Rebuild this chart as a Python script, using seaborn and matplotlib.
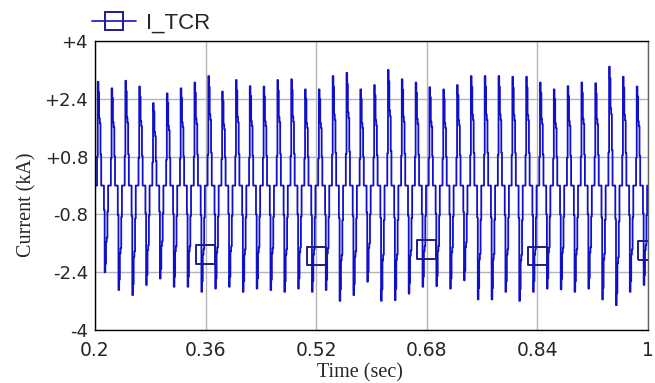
import numpy as np
import pandas as pd
import matplotlib
matplotlib.use("Agg")
import matplotlib.pyplot as plt
from matplotlib.lines import Line2D
import seaborn as sns

# peak current of each half cycle (kA), 50 Hz from t=0.2 s
pos_peak = [2.87, 2.69, 2.90, 2.74, 2.28, 2.55, 2.69, 2.85, 3.03, 2.60,
            2.92, 2.75, 2.74, 2.92, 2.94, 2.66, 2.66, 3.03, 3.12, 2.66,
            2.78, 3.20, 2.94, 2.85, 2.72, 2.66, 2.78, 3.03, 3.03, 3.03,
            3.01, 3.01, 2.85, 2.66, 2.75, 2.85, 2.83, 3.29, 3.01, 2.74]
neg_peak = [-2.40, -2.89, -3.03, -2.75, -2.57, -2.80, -2.80, -2.94, -2.85, -2.80,
            -2.94, -2.85, -2.89, -2.94, -2.85, -2.94, -2.89, -3.19, -3.03, -2.66,
            -3.19, -3.17, -2.99, -2.80, -2.78, -2.85, -2.62, -3.15, -3.15, -2.94,
            -3.19, -2.94, -2.85, -2.87, -2.94, -2.85, -3.15, -3.31, -2.94, -2.75]
# staircase shape of one conduction pulse (1 ms samples, fraction of the peak)
pulse_shape = [0.0, 0.0, 0.0, 0.28, 1.0, 0.9, 0.65, 0.6, 0.3, 0.0]

# square markers on the trace
marker_t = [0.36, 0.52, 0.68, 0.84, 1.0]
marker_i = [-1.90, -1.95, -1.77, -1.95, -1.79]

xticks = [0.2, 0.36, 0.52, 0.68, 0.84, 1.0]
xlabels = ["0.2", "0.36", "0.52", "0.68", "0.84", "1"]
yticks = [4, 2.4, 0.8, -0.8, -2.4, -4]
ylabels = ["+4", "+2.4", "+0.8", "-0.8", "-2.4", "-4"]

# build the sampled trace
vals = []
for p, n in zip(pos_peak, neg_peak):
    vals += [p * s for s in pulse_shape]
    vals += [n * s for s in pulse_shape]
vals.append(0.0)
t = 0.2 + 0.001 * np.arange(len(vals))
df = pd.DataFrame({"time": t, "current": vals})

sns.set_style("white")

blue = "#1010c8"
navy = "#1c1c90"

fig = plt.figure(figsize=(6.55, 3.83), dpi=100)
ax = fig.add_axes([0.145, 0.138, 0.844, 0.755])

sns.lineplot(data=df, x="time", y="current", color=blue, lw=1.3,
             drawstyle="steps-post", estimator=None, sort=False, ax=ax)
sns.scatterplot(x=marker_t, y=marker_i, marker="s", s=185, facecolors="none",
                edgecolor=navy, linewidth=1.4, ax=ax, zorder=5)

ax.set_xlim(0.2, 1.0)
ax.set_ylim(-4, 4)
ax.set_xticks(xticks)
ax.set_xticklabels(xlabels, family="DejaVu Sans", fontsize=13.5)
ax.set_yticks(yticks)
ax.set_yticklabels(ylabels, family="DejaVu Sans", fontsize=13)
ax.tick_params(direction="in", length=8, width=1, color="black")
ax.tick_params(axis="x", pad=8)
ax.tick_params(axis="y", pad=5)
ax.grid(True, color="#b4b4b4", lw=1)
ax.set_xlabel("")
ax.set_ylabel("")
for s in ax.spines.values():
    s.set_color("black")
    s.set_linewidth(1)
ax.spines["right"].set_color("#606060")

fig.text(27 / 655, 1 - 205 / 383, "Current (kA)", rotation=90, ha="center",
         va="center", family="Liberation Serif", fontsize=14.5)
fig.text(360 / 655, 1 - 373 / 383, "Time (sec)", ha="center", va="center",
         family="Liberation Serif", fontsize=14.5)

handle = Line2D([], [], color=blue, lw=1.2, marker="s", markersize=13,
                markerfacecolor="none", markeredgecolor=navy, markeredgewidth=1.4)
fig.legend(handles=[handle], labels=["I_TCR"], loc="center left",
           bbox_to_anchor=(92 / 655, 1 - 23 / 383), frameon=False,
           handlelength=2.0, handletextpad=0.45, borderpad=0, borderaxespad=0,
           prop={"family": "Liberation Sans", "size": 16})

fig.savefig("out.png", dpi=100)
